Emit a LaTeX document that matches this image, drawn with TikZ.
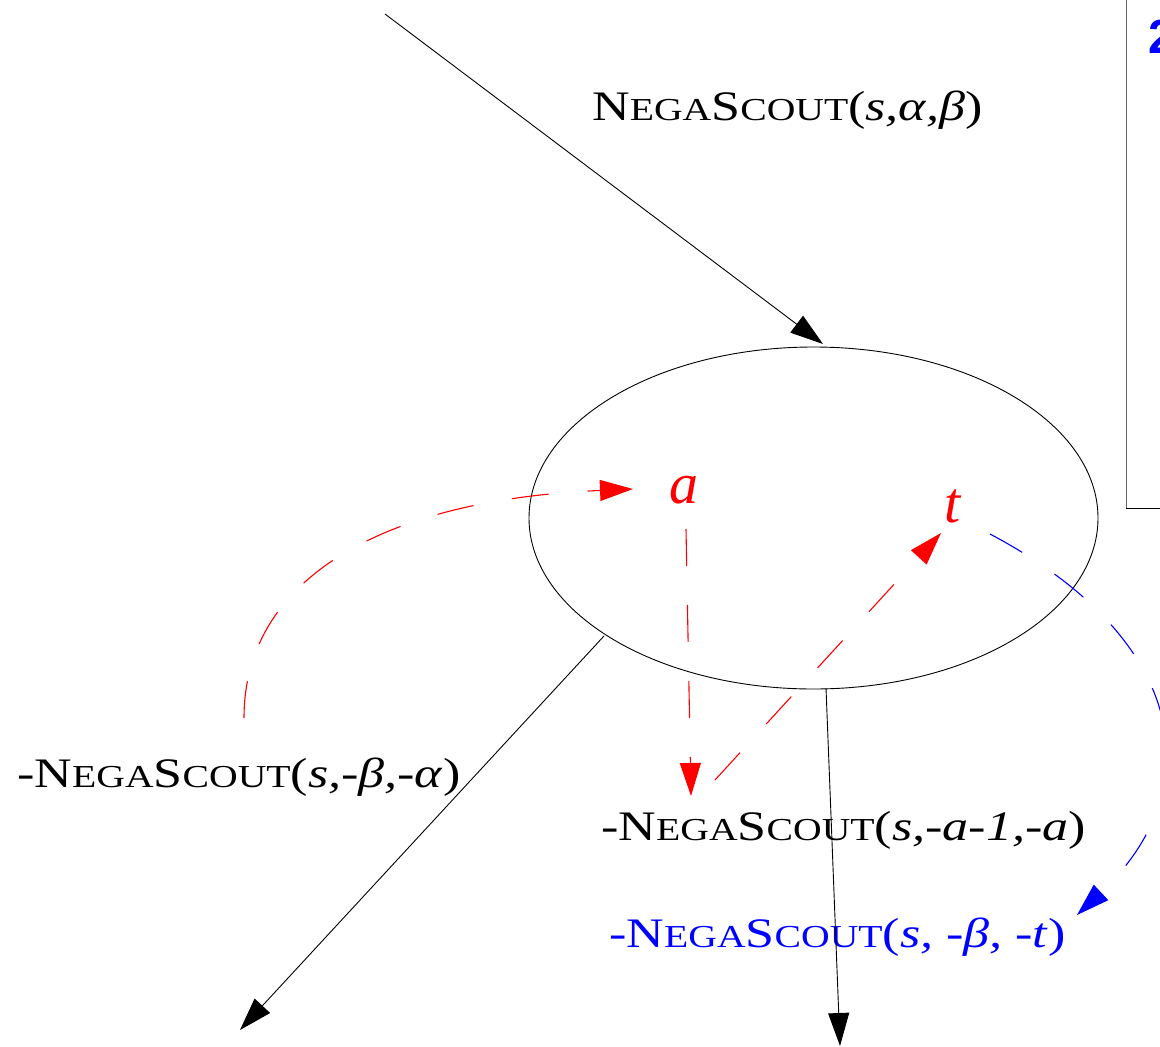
\documentclass[tikz,border=0pt]{standalone}
\usepackage{fontspec}
\setmainfont{Liberation Serif}
\newfontfamily\digitfont{Liberation Sans}
\usetikzlibrary{arrows.meta,shapes.geometric}
\newcommand\bigsz{\fontsize{42}{46}\selectfont}
\newcommand\smsz{\fontsize{32}{36}\selectfont}
\newcommand\NScout{{\bigsz N}{\smsz EGA}{\bigsz S}{\smsz COUT}}
\newcommand\lbl[1]{\scalebox{1.24}[1]{\bigsz #1}}
\begin{document}
\begin{tikzpicture}[x=1pt,y=-1pt,
  tipb/.style={-{Triangle[length=33pt,width=21pt]}},
  blk/.style={draw=black,line width=0.9pt,tipb},
  rdash/.style={draw=red,line width=1.1pt,dash pattern=on 37pt off 39pt,tipb},
  bdash/.style={draw=blue,line width=1.1pt,dash pattern=on 37pt off 39pt,tipb},
  lab/.style={inner sep=0pt,anchor=base west},
  var/.style={inner sep=0pt,anchor=base,text=red,font=\itshape\fontsize{58}{58}\selectfont}]
\useasboundingbox (0,0) rectangle (1160,1047);
\clip (0,0) rectangle (1160,1047);

% box at top right
\draw[black!60,line width=1pt] (1126,-2) -- (1126,508);
\draw[black,line width=1pt] (1126,508) -- (1162,508);
\node[inner sep=0pt,anchor=base west,text=blue,font=\digitfont\bfseries\fontsize{48}{48}\selectfont] (two) at (1148,53) {2};

% ellipse
\node[draw,ellipse,line width=0.9pt,minimum width=569pt,minimum height=342pt,inner sep=0pt] (ell) at (813.5,518) {};

% labels
\node[lab] (ns1) at (592,120) {\lbl{\NScout(\textit{s,α,β})}};
\node[lab] (ns2) at (17,787) {\lbl{-\NScout(\textit{s,-β,-α})}};
\node[lab] (ns3) at (601,840) {\lbl{-\NScout(\textit{s,-a-1,-a})}};
\node[lab,text=blue] (ns4) at (609,947) {\lbl{-\NScout(\textit{s, -β, -t})}};

\node[var] (a) at (684,503) {a};
\node[var] (t) at (953,522) {t};

% coordinates
\coordinate (topstart) at (385,14);
\coordinate (topend) at (823,344);
\coordinate (blstart) at (604,636);
\coordinate (blend) at (240,1030);
\coordinate (bstart) at (826,688);
\coordinate (bend) at (840,1046);
\coordinate (rcs) at (244,718);
\coordinate (rce) at (633,489);
\coordinate (rvs) at (686,529);
\coordinate (rve) at (691,796);
\coordinate (rds) at (715,780);
\coordinate (rde) at (941,533);
\coordinate (bcs) at (990,534);
\coordinate (bce) at (1077,915);

% black arrows
\draw[blk] (topstart) -- (topend);
\draw[blk] (blstart) -- (blend);
\draw[blk] (bstart) -- (bend);

% red dashed arrows
\draw[rdash] (rcs) .. controls (244,580) and (380,500) .. (rce);
\draw[rdash] (rvs) -- (rve);
\draw[rdash] (rds) -- (rde);

% blue dashed arrow
\draw[bdash] (bcs) .. controls (1190,640) and (1210,790) .. (bce);
\end{tikzpicture}
\end{document}
